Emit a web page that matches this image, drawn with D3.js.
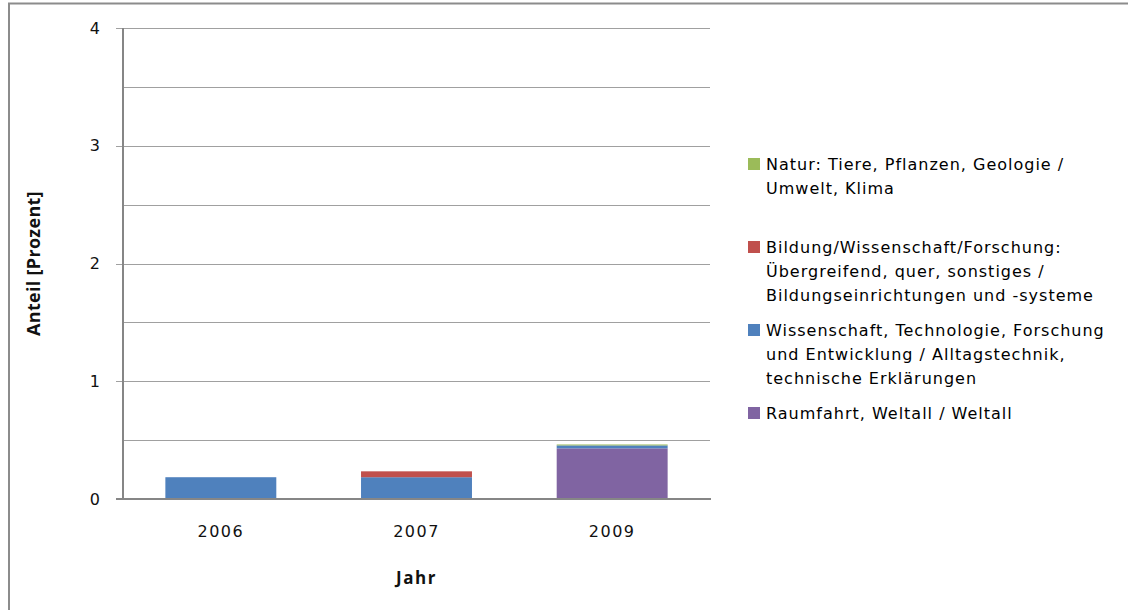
<!DOCTYPE html>
<html>
<head>
<meta charset="utf-8">
<script src="https://cdn.jsdelivr.net/npm/d3@7/dist/d3.min.js"></script>
<style>
  html, body { margin: 0; padding: 0; background: #fff; }
  svg { display: block; }
</style>
</head>
<body>
<svg id="chart" width="1128" height="610"></svg>
<script>
// ---- data ----
const years = ["2006", "2007", "2009"];
const seriesNames = [
  "Raumfahrt, Weltall / Weltall",
  "Wissenschaft, Technologie, Forschung und Entwicklung / Alltagstechnik, technische Erklärungen",
  "Bildung/Wissenschaft/Forschung: Übergreifend, quer, sonstiges / Bildungseinrichtungen und -systeme",
  "Natur: Tiere, Pflanzen, Geologie / Umwelt, Klima"
];
const raumfahrt    = [0,     0,     0.43];
const wissenschaft = [0.185, 0.185, 0.025];
const bildung      = [0,     0.05,  0];
const natur        = [0,     0,     0.008];
const yTicks = [0, 1, 2, 3, 4];
const legendLines = [
  ["Natur: Tiere, Pflanzen, Geologie /", "Umwelt, Klima"],
  ["Bildung/Wissenschaft/Forschung:", "Übergreifend, quer, sonstiges /", "Bildungseinrichtungen und -systeme"],
  ["Wissenschaft, Technologie, Forschung", "und Entwicklung / Alltagstechnik,", "technische Erklärungen"],
  ["Raumfahrt, Weltall / Weltall"]
];
const colors = ["#8064A2", "#4F81BD", "#C0504D", "#9BBB59"];
const legendOrder = [3, 2, 1, 0];

// ---- layout ----
const svg = d3.select("#chart");
const plot = { left: 123, right: 710, top: 28, bottom: 499 };
const tickFont = "'DejaVu Sans', sans-serif";

// frame
svg.append("path")
  .attr("d", "M9,610 V3.5 H1128")
  .attr("fill", "none").attr("stroke", "#8c8c8c").attr("stroke-width", 2);

const x = d3.scaleBand().domain(years).range([plot.left, plot.right]).padding(0);
const y = d3.scaleLinear().domain([0, 4]).range([plot.bottom, plot.top]);

// gridlines every 0.5
const grid = d3.range(0.5, 4.01, 0.5);
svg.append("g").selectAll("line").data(grid).join("line")
  .attr("x1", d => Number.isInteger(d) ? plot.left - 7 : plot.left)
  .attr("x2", plot.right)
  .attr("y1", d => Math.round(y(d)) + 0.5)
  .attr("y2", d => Math.round(y(d)) + 0.5)
  .attr("stroke", "#a0a0a0").attr("stroke-width", 1);

// stacked bars
const table = years.map((yr, i) => ({
  year: yr, s0: raumfahrt[i], s1: wissenschaft[i], s2: bildung[i], s3: natur[i]
}));
const stack = d3.stack().keys(["s0", "s1", "s2", "s3"]);
const stacked = stack(table);
const barW = x.bandwidth() * 0.567;
svg.append("g").selectAll("g").data(stacked).join("g")
  .attr("fill", (d, i) => colors[i])
  .selectAll("rect").data(d => d).join("rect")
  .attr("x", d => x(d.data.year) + (x.bandwidth() - barW) / 2)
  .attr("width", barW)
  .attr("y", d => y(d[1]))
  .attr("height", d => Math.max(0, y(d[0]) - y(d[1])));

// y axis
const yAxis = d3.axisLeft(y).tickValues(yTicks).tickSize(0).tickPadding(22)
  .tickFormat(d3.format("d"));
const gy = svg.append("g").attr("transform", `translate(${plot.left},0)`).call(yAxis);
gy.select(".domain").remove();
gy.selectAll("text").attr("font-family", tickFont).attr("font-size", 16)
  .attr("fill", "#111").attr("letter-spacing", 1);

svg.append("line")
  .attr("x1", plot.left).attr("x2", plot.left)
  .attr("y1", plot.top).attr("y2", plot.bottom)
  .attr("stroke", "#868686").attr("stroke-width", 2);
svg.append("line")
  .attr("x1", plot.left - 7).attr("x2", plot.right + 1)
  .attr("y1", plot.bottom).attr("y2", plot.bottom)
  .attr("stroke", "#868686").attr("stroke-width", 2);

// x axis labels
const xAxis = d3.axisBottom(x).tickSize(0).tickPadding(27);
const gx = svg.append("g").attr("transform", `translate(0,${plot.bottom})`).call(xAxis);
gx.select(".domain").remove();
gx.selectAll("text").attr("font-family", tickFont).attr("font-size", 16)
  .attr("fill", "#111").attr("letter-spacing", 1.5);

// axis titles
svg.append("text")
  .attr("x", (plot.left + plot.right) / 2).attr("y", 584)
  .attr("text-anchor", "middle")
  .attr("font-family", "'Open Sans', sans-serif").attr("font-weight", 700)
  .attr("font-size", 17).attr("fill", "#111").attr("letter-spacing", 1.5)
  .text("Jahr");
svg.append("text")
  .attr("transform", `translate(40,${(plot.top + plot.bottom) / 2}) rotate(-90)`)
  .attr("text-anchor", "middle")
  .attr("font-family", "'Open Sans', sans-serif").attr("font-weight", 700)
  .attr("font-size", 18).attr("fill", "#111").attr("letter-spacing", 0.3)
  .text("Anteil [Prozent]");

// legend
const legTop = 160, slot = 83, lineH = 24;
const leg = svg.append("g");
legendOrder.forEach((si, k) => {
  const g = leg.append("g").attr("transform", `translate(748,${legTop + k * slot})`);
  g.append("rect").attr("x", 0).attr("y", -2).attr("width", 12).attr("height", 12)
    .attr("fill", colors[si]);
  const t = g.append("text").attr("x", 18).attr("y", 10)
    .attr("font-family", "'DejaVu Sans', sans-serif").attr("font-size", 16)
    .attr("letter-spacing", 1.0).attr("fill", "#000");
  legendLines[k].forEach((ln, j) => {
    t.append("tspan").attr("x", 18).attr("y", 10 + j * lineH).text(ln);
  });
});
</script>
</body>
</html>
